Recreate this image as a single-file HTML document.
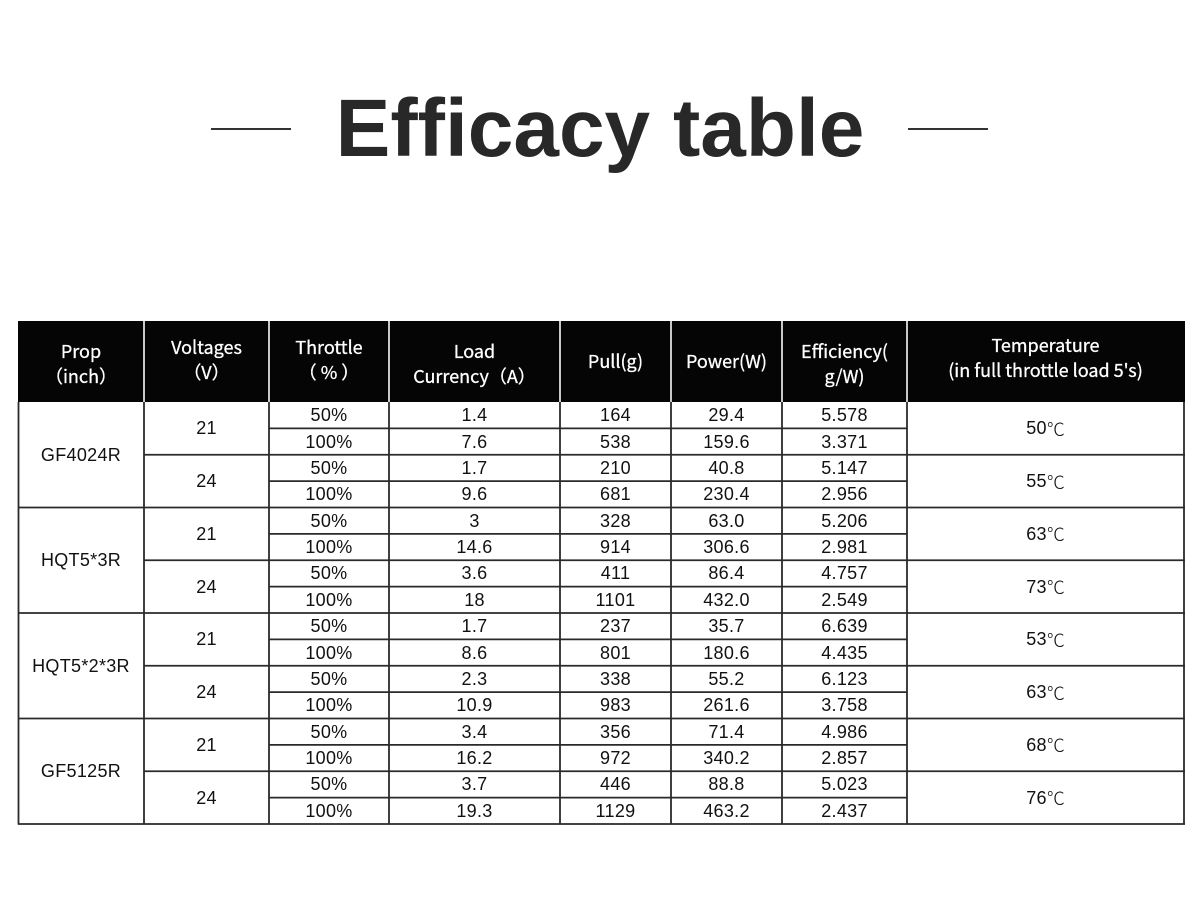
<!DOCTYPE html>
<html>
<head>
<meta charset="utf-8">
<style>
html,body{margin:0;padding:0;background:#fff;}
body{width:1200px;height:909px;position:relative;overflow:hidden;}
.title{position:absolute;left:0;width:1200px;top:88px;height:82px;line-height:82px;text-align:center;
 font-family:"Liberation Sans",sans-serif;font-weight:bold;font-size:82px;color:#282828;}
.dash{position:absolute;top:128px;height:2px;width:80px;background:#333;}
.hdr{position:absolute;left:18px;top:321px;width:1167px;height:81px;background:#050505;}
.hsep{position:absolute;top:321px;height:81px;width:2px;background:#c8c8c8;}
.ht{position:absolute;top:321px;height:81px;display:flex;align-items:center;justify-content:center;text-align:center;
 font-family:"Noto Sans CJK SC","Liberation Sans",sans-serif;font-weight:400;font-size:18px;line-height:25px;color:#fff;
 -webkit-text-stroke:0.3px #fff;}
.grid{position:absolute;left:18px;top:402px;width:1166px;height:422px;display:grid;
 grid-template-columns:126px 125px 120px 171px 111px 111px 125px 277px;
 grid-template-rows:repeat(16,26.375px);
 font-family:"Liberation Sans","Noto Sans CJK SC",sans-serif;font-size:18px;color:#111;letter-spacing:0.3px;}
.grid div{display:flex;align-items:center;justify-content:center;padding-top:1px;}
.r4{grid-row:span 4;}
.r2{grid-row:span 2;}
.deg{font-family:"Noto Sans CJK SC",sans-serif;font-weight:300;letter-spacing:0;}
svg{position:absolute;left:0;top:0;}
</style>
</head>
<body>
<div class="dash" style="left:211px"></div>
<div class="dash" style="left:908px"></div>
<div class="title">Efficacy table</div>

<div class="hdr"></div>
<div class="hsep" style="left:143px"></div>
<div class="hsep" style="left:268px"></div>
<div class="hsep" style="left:388px"></div>
<div class="hsep" style="left:559px"></div>
<div class="hsep" style="left:670px"></div>
<div class="hsep" style="left:781px"></div>
<div class="hsep" style="left:906px"></div>

<div class="ht" style="left:18px;width:126px;padding-top:2px;">Prop<br>（inch）</div>
<div class="ht" style="left:144px;width:125px;margin-top:-2px;">Voltages<br>（V）</div>
<div class="ht" style="left:269px;width:120px;margin-top:-2px;">Throttle<br>（ % ）</div>
<div class="ht" style="left:389px;width:171px;padding-top:2px;">Load<br>Currency（A）</div>
<div class="ht" style="left:560px;width:111px;">Pull(g)</div>
<div class="ht" style="left:671px;width:111px;">Power(W)</div>
<div class="ht" style="left:782px;width:125px;padding-top:2px;">Efficiency(<br>g/W)</div>
<div class="ht" style="left:907px;width:277px;margin-top:-4px;">Temperature<br>(in full throttle load 5's)</div>

<div class="grid">
 <div class="r4">GF4024R</div><div class="r2">21</div><div>50%</div><div>1.4</div><div>164</div><div>29.4</div><div>5.578</div><div class="r2">50<span class="deg">℃</span></div>
 <div>100%</div><div>7.6</div><div>538</div><div>159.6</div><div>3.371</div>
 <div class="r2">24</div><div>50%</div><div>1.7</div><div>210</div><div>40.8</div><div>5.147</div><div class="r2">55<span class="deg">℃</span></div>
 <div>100%</div><div>9.6</div><div>681</div><div>230.4</div><div>2.956</div>

 <div class="r4">HQT5*3R</div><div class="r2">21</div><div>50%</div><div>3</div><div>328</div><div>63.0</div><div>5.206</div><div class="r2">63<span class="deg">℃</span></div>
 <div>100%</div><div>14.6</div><div>914</div><div>306.6</div><div>2.981</div>
 <div class="r2">24</div><div>50%</div><div>3.6</div><div>411</div><div>86.4</div><div>4.757</div><div class="r2">73<span class="deg">℃</span></div>
 <div>100%</div><div>18</div><div>1101</div><div>432.0</div><div>2.549</div>

 <div class="r4">HQT5*2*3R</div><div class="r2">21</div><div>50%</div><div>1.7</div><div>237</div><div>35.7</div><div>6.639</div><div class="r2">53<span class="deg">℃</span></div>
 <div>100%</div><div>8.6</div><div>801</div><div>180.6</div><div>4.435</div>
 <div class="r2">24</div><div>50%</div><div>2.3</div><div>338</div><div>55.2</div><div>6.123</div><div class="r2">63<span class="deg">℃</span></div>
 <div>100%</div><div>10.9</div><div>983</div><div>261.6</div><div>3.758</div>

 <div class="r4">GF5125R</div><div class="r2">21</div><div>50%</div><div>3.4</div><div>356</div><div>71.4</div><div>4.986</div><div class="r2">68<span class="deg">℃</span></div>
 <div>100%</div><div>16.2</div><div>972</div><div>340.2</div><div>2.857</div>
 <div class="r2">24</div><div>50%</div><div>3.7</div><div>446</div><div>88.8</div><div>5.023</div><div class="r2">76<span class="deg">℃</span></div>
 <div>100%</div><div>19.3</div><div>1129</div><div>463.2</div><div>2.437</div>
</div>

<svg width="1200" height="909" viewBox="0 0 1200 909">
 <g stroke="#2a2a2a" stroke-width="1.8" fill="none">
  <line x1="18.5" y1="402" x2="18.5" y2="824.5"/>
  <line x1="144" y1="402" x2="144" y2="824.5"/>
  <line x1="269" y1="402" x2="269" y2="824.5"/>
  <line x1="389" y1="402" x2="389" y2="824.5"/>
  <line x1="560" y1="402" x2="560" y2="824.5"/>
  <line x1="671" y1="402" x2="671" y2="824.5"/>
  <line x1="782" y1="402" x2="782" y2="824.5"/>
  <line x1="907" y1="402" x2="907" y2="824.5"/>
  <line x1="1184" y1="402" x2="1184" y2="824.5"/>
  <line x1="18" y1="507.5" x2="1185" y2="507.5"/>
  <line x1="18" y1="613" x2="1185" y2="613"/>
  <line x1="18" y1="718.5" x2="1185" y2="718.5"/>
  <line x1="18" y1="824" x2="1185" y2="824"/>
  <line x1="144" y1="454.75" x2="1185" y2="454.75"/>
  <line x1="144" y1="560.25" x2="1185" y2="560.25"/>
  <line x1="144" y1="665.75" x2="1185" y2="665.75"/>
  <line x1="144" y1="771.25" x2="1185" y2="771.25"/>
  <line x1="269" y1="428.4" x2="907" y2="428.4"/>
  <line x1="269" y1="481.1" x2="907" y2="481.1"/>
  <line x1="269" y1="533.9" x2="907" y2="533.9"/>
  <line x1="269" y1="586.6" x2="907" y2="586.6"/>
  <line x1="269" y1="639.4" x2="907" y2="639.4"/>
  <line x1="269" y1="692.1" x2="907" y2="692.1"/>
  <line x1="269" y1="744.9" x2="907" y2="744.9"/>
  <line x1="269" y1="797.6" x2="907" y2="797.6"/>
 </g>
</svg>
</body>
</html>
